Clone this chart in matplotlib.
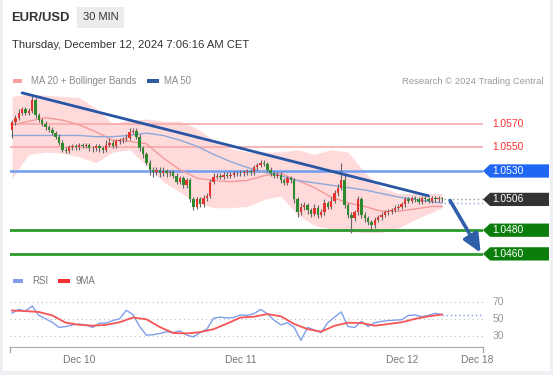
import numpy as np
import matplotlib.pyplot as plt
from matplotlib.patches import Rectangle, Polygon
from matplotlib.transforms import blended_transform_factory

plt.rcParams['font.family'] = ['Liberation Sans', 'DejaVu Sans']

# 30 min candles, Dec 9 afternoon -> Dec 12 morning (CET)
first_open = 1.0565
closes = [1.0571, 1.0575, 1.0579, 1.0582, 1.0579, 1.0581, 1.0590, 1.0577, 1.0573, 1.0570,
          1.0567, 1.0565, 1.0562, 1.0559, 1.0554, 1.0548, 1.0547, 1.0550, 1.0551, 1.0550,
          1.0552, 1.0551, 1.0552, 1.0549, 1.0549, 1.0551, 1.0549, 1.0548, 1.0552, 1.0554,
          1.0551, 1.0555, 1.0556, 1.0557, 1.0558, 1.0563, 1.0564, 1.0559, 1.0549, 1.0544,
          1.0537, 1.0531, 1.0529, 1.0531, 1.0528, 1.0530, 1.0528, 1.0529, 1.0526, 1.0521,
          1.0524, 1.0518, 1.0522, 1.0506, 1.0500, 1.0506, 1.0502, 1.0507, 1.0509, 1.0521,
          1.0525, 1.0526, 1.0525, 1.0527, 1.0526, 1.0527, 1.0528, 1.0528, 1.0528, 1.0529,
          1.0530, 1.0529, 1.0533, 1.0535, 1.0537, 1.0536, 1.0531, 1.0528, 1.0526, 1.0527,
          1.0522, 1.0520, 1.0524, 1.0522, 1.0506, 1.0495, 1.0500, 1.0501, 1.0497, 1.0494,
          1.0499, 1.0493, 1.0495, 1.0503, 1.0500, 1.0505, 1.0511, 1.0516, 1.0522, 1.0501,
          1.0493, 1.0490, 1.0495, 1.0506, 1.0493, 1.0490, 1.0487, 1.0484, 1.0489, 1.0491,
          1.0493, 1.0495, 1.0496, 1.0497, 1.0499, 1.0500, 1.0502, 1.0506, 1.0505, 1.0507,
          1.0506, 1.0504, 1.0507, 1.0506, 1.0505, 1.0507, 1.0506, 1.0507, 1.0506]
highs = [1.0573, 1.0577, 1.0582, 1.0584, 1.0584, 1.0583, 1.0594, 1.0592, 1.0579, 1.0575,
         1.0572, 1.0569, 1.0567, 1.0564, 1.0561, 1.0556, 1.0550, 1.0552, 1.0553, 1.0553,
         1.0554, 1.0554, 1.0554, 1.0554, 1.0551, 1.0553, 1.0553, 1.0551, 1.0556, 1.0558,
         1.0556, 1.0557, 1.0558, 1.0559, 1.0561, 1.0566, 1.0566, 1.0566, 1.0561, 1.0551,
         1.0546, 1.0539, 1.0533, 1.0533, 1.0533, 1.0533, 1.0532, 1.0531, 1.0531, 1.0528,
         1.0526, 1.0526, 1.0524, 1.0524, 1.0508, 1.0508, 1.0508, 1.0510, 1.0511, 1.0523,
         1.0528, 1.0528, 1.0528, 1.0529, 1.0529, 1.0529, 1.0530, 1.0530, 1.0531, 1.0531,
         1.0532, 1.0532, 1.0535, 1.0537, 1.0539, 1.0539, 1.0538, 1.0533, 1.0530, 1.0529,
         1.0529, 1.0524, 1.0526, 1.0526, 1.0524, 1.0508, 1.0503, 1.0504, 1.0503, 1.0499,
         1.0502, 1.0501, 1.0498, 1.0506, 1.0505, 1.0508, 1.0514, 1.0519, 1.0537, 1.0527,
         1.0503, 1.0495, 1.0497, 1.0509, 1.0508, 1.0495, 1.0492, 1.0489, 1.0491, 1.0493,
         1.0495, 1.0497, 1.0498, 1.0499, 1.0501, 1.0502, 1.0504, 1.0508, 1.0508, 1.0509,
         1.0509, 1.0508, 1.0509, 1.0509, 1.0508, 1.0509, 1.0509, 1.0509, 1.0508]
lows = [1.0558, 1.0569, 1.0573, 1.0577, 1.0577, 1.0577, 1.0579, 1.0575, 1.0571, 1.0568,
        1.0565, 1.0563, 1.0560, 1.0557, 1.0552, 1.0546, 1.0545, 1.0545, 1.0548, 1.0548,
        1.0548, 1.0549, 1.0549, 1.0547, 1.0546, 1.0547, 1.0546, 1.0545, 1.0546, 1.0550,
        1.0549, 1.0549, 1.0553, 1.0554, 1.0555, 1.0556, 1.0561, 1.0557, 1.0547, 1.0541,
        1.0535, 1.0527, 1.0525, 1.0527, 1.0525, 1.0526, 1.0525, 1.0526, 1.0524, 1.0519,
        1.0519, 1.0516, 1.0516, 1.0504, 1.0497, 1.0498, 1.0500, 1.0500, 1.0505, 1.0507,
        1.0519, 1.0523, 1.0523, 1.0523, 1.0524, 1.0524, 1.0525, 1.0526, 1.0526, 1.0526,
        1.0527, 1.0527, 1.0527, 1.0531, 1.0533, 1.0534, 1.0529, 1.0526, 1.0524, 1.0524,
        1.0520, 1.0518, 1.0518, 1.0520, 1.0503, 1.0491, 1.0493, 1.0497, 1.0494, 1.0491,
        1.0492, 1.0490, 1.0491, 1.0493, 1.0498, 1.0498, 1.0503, 1.0509, 1.0514, 1.0499,
        1.0490, 1.0478, 1.0488, 1.0493, 1.0490, 1.0487, 1.0484, 1.0480, 1.0482, 1.0487,
        1.0489, 1.0491, 1.0493, 1.0494, 1.0495, 1.0497, 1.0498, 1.0500, 1.0503, 1.0503,
        1.0504, 1.0502, 1.0502, 1.0504, 1.0503, 1.0503, 1.0504, 1.0504, 1.0504]

# indicators, read every 5th candle
band_idx = [0, 5, 10, 15, 20, 25, 30, 35, 40, 45, 50, 55, 60, 65, 70, 75, 80, 85, 90, 95,
            100, 105, 110, 115, 120, 125, 128]
bb_upper = [1.0593, 1.0595, 1.0594, 1.0593, 1.0592, 1.0583, 1.0570, 1.0573, 1.0574, 1.0572,
            1.0572, 1.0566, 1.0556, 1.0549, 1.0546, 1.0546, 1.0546, 1.0548, 1.0544, 1.0548,
            1.0546, 1.0529, 1.0516, 1.0511, 1.0511, 1.0511, 1.0511]
bb_lower = [1.0524, 1.0544, 1.0546, 1.0545, 1.0542, 1.0537, 1.0546, 1.0548, 1.0535, 1.0521,
            1.0512, 1.0503, 1.0499, 1.0499, 1.0500, 1.0506, 1.0509, 1.0493, 1.0484, 1.0481,
            1.0479, 1.0478, 1.0478, 1.0482, 1.0489, 1.0495, 1.0499]
ma20 = [1.0569, 1.0572, 1.0575, 1.0573, 1.0569, 1.0563, 1.0556, 1.0555, 1.0553, 1.0541,
        1.0531, 1.0524, 1.0522, 1.0521, 1.0522, 1.0526, 1.0528, 1.0522, 1.0516, 1.0508,
        1.0503, 1.0500, 1.0496, 1.0496, 1.0498, 1.0500, 1.0500]
ma50 = [1.0560, 1.0560, 1.0560, 1.0560, 1.0560, 1.0559, 1.0559, 1.0560, 1.0562, 1.0560,
        1.0556, 1.0551, 1.0544, 1.0538, 1.0533, 1.0529, 1.0526, 1.0522, 1.0520, 1.0518,
        1.0516, 1.0514, 1.0511, 1.0508, 1.0506, 1.0504, 1.0503]

# RSI every 2nd candle, its 9MA every 4th
rsi = [56.6, 61, 59, 65, 54, 50, 46, 40, 41, 43,
       43.8, 43, 40, 45, 45, 48, 50, 60, 55, 41,
       31, 31.5, 33, 35, 34, 36, 31, 29, 34, 38,
       50.8, 52, 51, 51.5, 54.5, 54, 56, 61, 56, 48.5,
       43, 45.5, 40, 25, 40, 37, 34, 45.5, 52, 58,
       41, 40, 47, 41, 45.5, 47, 48, 48.5, 49, 54,
       54.5, 52.5, 54, 56.5, 55]
rsi_ma = [59.7, 59, 58, 54, 45.5, 43, 42, 43, 46, 51.5, 49.5, 40.5, 33.5, 33, 34.5, 38, 44.5,
          51.5, 52.5, 55.5, 53, 44, 38, 35, 42, 45.5, 45.2, 42, 44, 46, 50, 53, 55]

resistances = [1.0570, 1.0550]
pivot = 1.0530
last_price = 1.0506
supports = [1.0480, 1.0460]

trend_idx = [3, 124]
trend_px = [1.0596, 1.0509]
arrow_from = (130.4, 1.0505)
arrow_to = (139.5, 1.0461)

day_ticks = [20, 68, 116, 138.4]
day_labels = ['Dec 10', 'Dec 11', 'Dec 12', 'Dec 18']

W, H = 553, 375
fig = plt.figure(figsize=(W / 100, H / 100), dpi=100)
fig.patch.set_facecolor('#eef0f3')


def px_rect(l, t, r, b):
    return [l / W, 1 - b / H, (r - l) / W, (b - t) / H]


# background card + header
bg = fig.add_axes([0, 0, 1, 1])
bg.set_xlim(0, W)
bg.set_ylim(H, 0)
bg.axis('off')
bg.add_patch(Rectangle((3, 0), 547, 371, facecolor='white', edgecolor='none'))
bg.text(11, 18, 'EUR/USD', fontsize=9.4, fontweight='bold', color='#333333', va='center')
bg.add_patch(Rectangle((77, 7), 47, 21, facecolor='#ececec', edgecolor='none'))
bg.text(100.5, 17.5, '30 MIN', fontsize=8, color='#333333', va='center', ha='center')
bg.text(12, 45, 'Thursday, December 12, 2024 7:06:16 AM CET', fontsize=8.1,
        color='#333333', va='center')

# legend rows
bg.add_patch(Rectangle((13, 79), 9, 4, facecolor='#f8a0a0', edgecolor='none'))
bg.text(31, 81, 'MA 20 + Bollinger Bands', fontsize=6.9, color='#8a8a8a', va='center')
bg.add_patch(Rectangle((147, 79), 12, 4, facecolor='#2f5aa0', edgecolor='none'))
bg.text(164, 81, 'MA 50', fontsize=6.9, color='#8a8a8a', va='center')
bg.text(544, 81, 'Research \u00a9 2024 Trading Central', fontsize=6.8, color='#9a9a9a',
        va='center', ha='right')
bg.add_patch(Rectangle((13, 279), 10, 4, facecolor='#7f9fec', edgecolor='none'))
bg.text(32, 281, 'RSI', fontsize=6.9, color='#777777', va='center')
bg.add_patch(Rectangle((58, 279), 12, 4, facecolor='#f03030', edgecolor='none'))
bg.text(76, 281, '9MA', fontsize=6.9, color='#777777', va='center')

# price panel
ax = fig.add_axes(px_rect(10, 88, 483, 265))
ax.set_facecolor('none')
for s in ax.spines.values():
    s.set_visible(False)
ax.set_xticks([])
ax.set_yticks([])
ax.set_xlim(-0.6, 140.2)
ax.set_ylim(1.04506, 1.06001)

ax.fill_between(band_idx, bb_lower, bb_upper, color='#ffdada', lw=0, zorder=1)
ax.plot(band_idx, ma20, color='#f49a9a', lw=1, zorder=3)
ax.plot(band_idx, ma50, color='#8ea8da', lw=1, zorder=3)

for lv in resistances:
    ax.axhline(lv, color='#f7a8a8', lw=1.2, zorder=2)
ax.axhline(pivot, color='#6f9cf0', lw=1.8, zorder=2)
for lv in supports:
    ax.axhline(lv, color='#2c9a2c', lw=2, zorder=2)

n = len(closes)
idx = np.arange(n)
c = np.array(closes)
opens = np.r_[first_open, c[:-1]]
cols = np.where(c >= opens, '#e3342f', '#2d8a2d')
ax.vlines(idx, lows, highs, color='#666666', lw=0.8, zorder=4)
ax.bar(idx, np.maximum(np.abs(c - opens), 0.00007), bottom=np.minimum(c, opens),
       width=0.72, color=cols, lw=0, zorder=5)

ax.plot(trend_idx, trend_px, color='#2856a3', lw=2, zorder=6, solid_capstyle='round')
ax.hlines(last_price, n - 0.5, 140.2, color='#999999', lw=1, ls=(0, (1, 2)), zorder=3)
ax.hlines(ma50[-1], n - 0.5, 140.2, color='#8ea8da', lw=1, ls=(0, (1, 2)), zorder=3)
ax.annotate('', xy=arrow_to, xytext=arrow_from, zorder=7,
            arrowprops=dict(arrowstyle='-|>,head_length=1.1,head_width=0.5',
                            color='#2f5fa8', lw=2.6, shrinkA=0, shrinkB=0))

tr = blended_transform_factory(ax.transAxes, ax.transData)
for lv in resistances:
    ax.text(1.0195, lv, f'{lv:.4f}', transform=tr, color='#ff3030', va='center',
            ha='left', fontsize=7.4, clip_on=False)


def tag(lv, fc):
    hh = 0.00056
    ax.add_patch(Polygon([(1.0, lv), (1.0148, lv + hh), (1.1395, lv + hh),
                          (1.1395, lv - hh), (1.0148, lv - hh)], closed=True,
                         transform=tr, facecolor=fc, edgecolor='none', clip_on=False))
    ax.text(1.0195, lv, f'{lv:.4f}', transform=tr, color='white', va='center',
            ha='left', fontsize=7.4, clip_on=False)


tag(pivot, '#1f66f5')
tag(last_price, '#333333')
for lv in supports:
    tag(lv, '#0b7d0b')

# RSI panel
rx = fig.add_axes(px_rect(10, 290, 483, 347))
rx.set_facecolor('none')
for k in ('top', 'left', 'right'):
    rx.spines[k].set_visible(False)
rx.spines['bottom'].set_color('#aaaaaa')
rx.set_xlim(-0.6, 140.2)
rx.set_ylim(17.2, 83.6)
rx.set_yticks([])
for lv in (30, 50, 70):
    rx.axhline(lv, color='#bbbbbb', lw=0.8, ls=(0, (1, 3)))
rsi_idx = np.arange(0, n, 2)
ma_idx = np.arange(0, n, 4)
rx.plot(rsi_idx, rsi, color='#7f9fec', lw=1)
rx.plot(ma_idx, rsi_ma, color='#f45555', lw=1.3)
rx.hlines(rsi[-1], rsi_idx[-1], 140.2, color='#7f9fec', lw=1, ls=(0, (1, 2)))
rx.plot([0, 0], [0, -0.09], transform=rx.transAxes, color='#aaaaaa', lw=1, clip_on=False)
rx.plot([1, 1], [0, -0.09], transform=rx.transAxes, color='#aaaaaa', lw=1, clip_on=False)
rx.set_xticks(day_ticks, day_labels)
rx.tick_params(axis='x', length=0, pad=6, labelsize=7.4, labelcolor='#777777')
rtr = blended_transform_factory(rx.transAxes, rx.transData)
for lv in (70, 50, 30):
    rx.text(1.0195, lv, str(lv), transform=rtr, color='#999999', va='center',
            ha='left', fontsize=7.4, clip_on=False)

fig.savefig('out.png', dpi=100, facecolor=fig.get_facecolor())
